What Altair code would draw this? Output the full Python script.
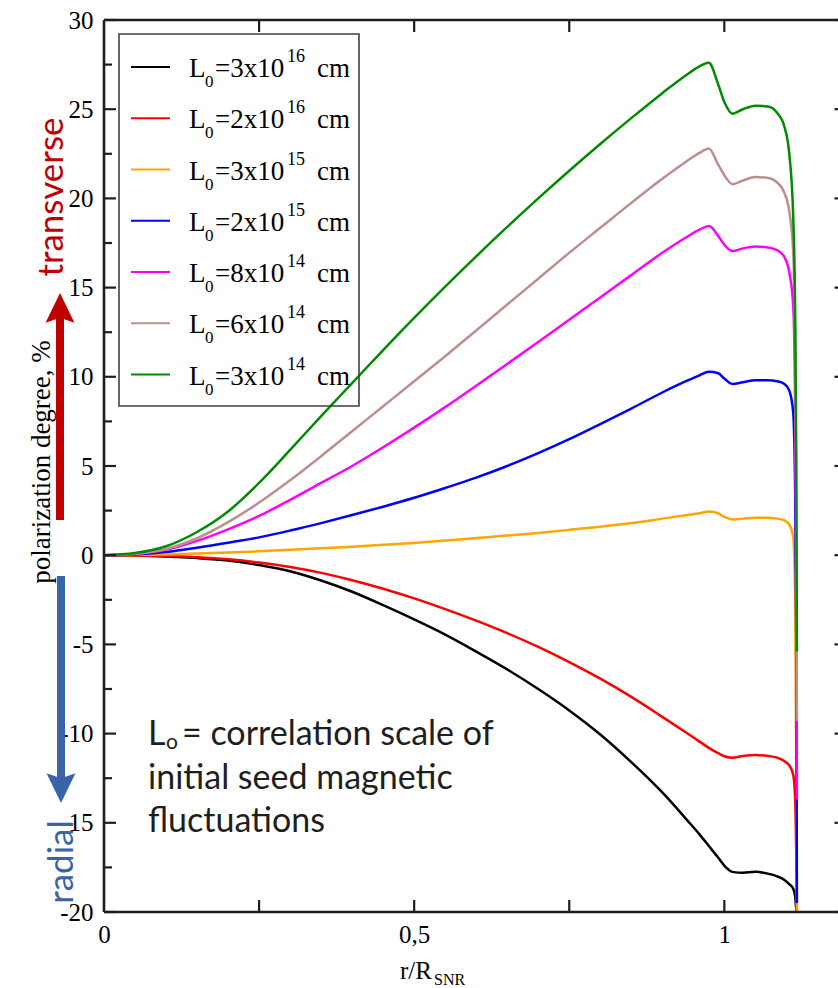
import altair as alt
import pandas as pd

# ---------------- data ----------------
r = [0, 0.05, 0.1, 0.15, 0.2, 0.25, 0.3, 0.35, 0.4, 0.45, 0.5, 0.55, 0.6, 0.65, 0.7,
     0.75, 0.8, 0.85, 0.9, 0.94, 0.96, 0.975, 0.99, 1.0, 1.013, 1.03, 1.05, 1.07,
     1.085, 1.097, 1.105, 1.111, 1.114, 1.116, 1.117]

black = [0, -0.02, -0.07, -0.16, -0.3, -0.55, -0.9, -1.42, -2.05, -2.8, -3.6, -4.45,
         -5.4, -6.4, -7.5, -8.7, -10.05, -11.6, -13.3, -14.85, -15.65, -16.3, -16.95,
         -17.4, -17.75, -17.8, -17.75, -17.85, -18.0, -18.2, -18.45, -18.7, -19.1,
         -19.8, -20.0]
red = [0, -0.01, -0.04, -0.11, -0.23, -0.41, -0.66, -0.99, -1.4, -1.88, -2.42, -3.02,
       -3.67, -4.37, -5.14, -5.99, -6.92, -7.94, -9.06, -9.98, -10.45, -10.8, -11.1,
       -11.27, -11.35, -11.25, -11.2, -11.25, -11.35, -11.55, -11.8, -12.3, -13.5,
       -17.0, -20.0]
orange = [0, 0.01, 0.04, 0.09, 0.15, 0.22, 0.3, 0.39, 0.48, 0.58, 0.69, 0.82, 0.96,
          1.1, 1.25, 1.42, 1.6, 1.8, 2.05, 2.25, 2.35, 2.45, 2.35, 2.15, 2.0, 2.05,
          2.1, 2.1, 2.05, 1.95, 1.7, 1.0, -2.0, -12.0, -20.0]
blue = [0, 0.04, 0.18, 0.42, 0.7, 1.0, 1.38, 1.8, 2.25, 2.72, 3.22, 3.77, 4.35, 5.0,
        5.72, 6.5, 7.35, 8.22, 9.12, 9.78, 10.08, 10.28, 10.2, 9.9, 9.6, 9.7, 9.8, 9.8,
        9.75, 9.6, 9.2, 8.0, 4.0, -5.0, -19.5]
magenta = [0, 0.07, 0.3, 0.8, 1.45, 2.2, 3.1, 4.05, 5.0, 6.05, 7.15, 8.3, 9.5, 10.72,
           11.95, 13.2, 14.45, 15.7, 16.95, 17.85, 18.25, 18.45, 17.9, 17.4, 17.05,
           17.2, 17.3, 17.25, 17.1, 16.7, 15.8, 14.0, 9.0, 0.0, -13.7]
brown = [0, 0.08, 0.35, 0.95, 1.85, 2.95, 4.2, 5.55, 6.95, 8.35, 9.75, 11.15, 12.6,
         14.05, 15.5, 16.95, 18.35, 19.75, 21.1, 22.1, 22.55, 22.8, 21.9, 21.3, 20.8,
         21.0, 21.2, 21.15, 20.9, 20.3, 19.2, 17.0, 12.0, 2.0, -9.3]
green = [0, 0.12, 0.5, 1.3, 2.45, 4.05, 5.9, 7.8, 9.65, 11.5, 13.3, 15.05, 16.75, 18.4,
         20.0, 21.55, 23.05, 24.5, 25.9, 26.95, 27.4, 27.6, 26.4, 25.4, 24.75, 25.0,
         25.2, 25.15, 24.8, 24.0, 22.4, 19.0, 14.0, 5.0, -5.4]

series_values = [black, red, orange, blue, magenta, brown, green]
series_colors = ["#000000", "#ff0000", "#ffa500", "#0000ff", "#ff00ff", "#bc8f8f", "#008b00"]
mantissas = ["3", "2", "3", "2", "8", "6", "3"]
exponents = ["16", "16", "15", "15", "14", "14", "14"]

y_major = [-20, -15, -10, -5, 0, 5, 10, 15, 20, 25, 30]
y_minor = [-17.5, -12.5, -7.5, -2.5, 2.5, 7.5, 12.5, 17.5, 22.5, 27.5]
x_ticks = [0.25, 0.5, 0.75, 1.0]
x_labels = [0, 0.5, 1]

# ---------------- layout ----------------
PL, PT, W, H = 104, 20, 732, 892
XMAX = 1.18
SERIF = "Liberation Serif"
SANS = "Lato"
INK = "#1e1e1e"
RED_TXT = "#c00000"
BLUE_TXT = "#3a64a8"

def px(xa):
    return xa - PL

def py(ya):
    return ya - PT

xscale = alt.Scale(domain=[0, XMAX], nice=False, zero=False)
yscale = alt.Scale(domain=[-20, 30], nice=False, zero=False)

X = alt.X("r:Q", scale=xscale,
          axis=alt.Axis(values=x_labels, title=None, grid=False, ticks=False, tickSize=0,
                        domain=False, labelFont=SERIF, labelFontSize=25, labelColor="black",
                        labelPadding=10, labelFlush=False, labelOverlap=False,
                        labelExpr="datum.value == 0.5 ? '0,5' : '' + datum.value"))
Y = alt.Y("v:Q", scale=yscale,
          axis=alt.Axis(values=y_major, title=None, grid=False, ticks=False, tickSize=0,
                        domain=False, labelFont=SERIF, labelFontSize=25, labelColor="black",
                        labelPadding=11, labelFlush=False, labelOverlap=False,
                        labelExpr="'' + datum.value"))

layers = []

# curves (black first, green on top)
for vals, col in zip(series_values, series_colors):
    d = pd.DataFrame({"r": r, "v": vals})
    layers.append(alt.Chart(d).mark_line(color=col, strokeWidth=2.5, interpolate="monotone")
                  .encode(x=X, y=Y))

def one(text="."):
    return pd.DataFrame({"t": [text]})

# frame lines
FR = dict(color=INK, strokeWidth=2.6)
layers.append(alt.Chart(one()).mark_rule(**FR).encode(
    x=alt.value(0), y=alt.value(0), y2=alt.value(H)))
layers.append(alt.Chart(one()).mark_rule(**FR).encode(
    x=alt.value(0), x2=alt.value(W + 2), y=alt.value(0)))
layers.append(alt.Chart(one()).mark_rule(**FR).encode(
    x=alt.value(0), x2=alt.value(W + 2), y=alt.value(H)))

# ticks (inward)
TK = dict(color=INK, strokeWidth=2.2)
dym = pd.DataFrame({"v": y_major})
dyn = pd.DataFrame({"v": y_minor})
dx = pd.DataFrame({"r": x_ticks})
layers.append(alt.Chart(dym).mark_rule(**TK).encode(x=alt.value(0), x2=alt.value(12), y=Y))
layers.append(alt.Chart(dyn).mark_rule(**TK).encode(x=alt.value(0), x2=alt.value(8), y=Y))
layers.append(alt.Chart(dym).mark_rule(**TK).encode(x=alt.value(W - 1.5), x2=alt.value(W + 2), y=Y))
layers.append(alt.Chart(dx).mark_rule(**TK).encode(x=X, y=alt.value(H - 12), y2=alt.value(H)))
layers.append(alt.Chart(dx).mark_rule(**TK).encode(x=X, y=alt.value(0), y2=alt.value(12)))

# legend
layers.append(alt.Chart(one()).mark_rect(fill=None, stroke="#404040", strokeWidth=1.6).encode(
    x=alt.value(px(119)), x2=alt.value(px(359)), y=alt.value(py(34)), y2=alt.value(py(406))))
row_px = [67 + 51.25 * i for i in range(7)]
leg = pd.DataFrame({
    "v": [30 - (ya - PT) * 50 / H for ya in row_px],
    "col": series_colors,
    "mant": ["=" + m + "x10" for m in mantissas],
    "exp": exponents,
})
layers.append(alt.Chart(leg).mark_rule(strokeWidth=2.2).encode(
    x=alt.value(px(131)), x2=alt.value(px(170)), y=Y,
    color=alt.Color("col:N", scale=None)))
TXT = dict(align="left", baseline="alphabetic", font=SERIF, color="black")
layers.append(alt.Chart(leg).mark_text(fontSize=27, dy=10, **TXT).encode(
    x=alt.value(px(189)), y=Y, text=alt.value("L")))
layers.append(alt.Chart(leg).mark_text(fontSize=17, dy=20, **TXT).encode(
    x=alt.value(px(205)), y=Y, text=alt.value("0")))
layers.append(alt.Chart(leg).mark_text(fontSize=27, dy=10, **TXT).encode(
    x=alt.value(px(215)), y=Y, text="mant:N"))
layers.append(alt.Chart(leg).mark_text(fontSize=18, dy=-5, **TXT).encode(
    x=alt.value(px(287)), y=Y, text="exp:N"))
layers.append(alt.Chart(leg).mark_text(fontSize=27, dy=10, **TXT).encode(
    x=alt.value(px(317)), y=Y, text=alt.value("cm")))

# annotation
ANN = dict(align="left", baseline="alphabetic", font=SANS, color=INK)
layers.append(alt.Chart(one("L")).mark_text(fontSize=34, **ANN).encode(
    x=alt.value(px(148)), y=alt.value(py(745)), text="t:N"))
layers.append(alt.Chart(one("o")).mark_text(fontSize=21, **ANN).encode(
    x=alt.value(px(166)), y=alt.value(py(749)), text="t:N"))
layers.append(alt.Chart(one("= correlation scale of")).mark_text(fontSize=34, **ANN).encode(
    x=alt.value(px(182)), y=alt.value(py(745)), text="t:N"))
layers.append(alt.Chart(one("initial seed magnetic")).mark_text(fontSize=34, **ANN).encode(
    x=alt.value(px(148)), y=alt.value(py(789)), text="t:N"))
layers.append(alt.Chart(one("fluctuations")).mark_text(fontSize=34, **ANN).encode(
    x=alt.value(px(148)), y=alt.value(py(832)), text="t:N"))

# axis titles
layers.append(alt.Chart(one("r/R")).mark_text(fontSize=25, **TXT).encode(
    x=alt.value(px(400)), y=alt.value(py(979)), text="t:N"))
layers.append(alt.Chart(one("SNR")).mark_text(fontSize=16, **TXT).encode(
    x=alt.value(px(434)), y=alt.value(py(985)), text="t:N"))
layers.append(alt.Chart(one("polarization degree, %")).mark_text(
    fontSize=27, angle=270, align="center", baseline="alphabetic", font=SERIF, color="black").encode(
    x=alt.value(px(50)), y=alt.value(py(462)), text="t:N"))

# side labels
layers.append(alt.Chart(one("transverse")).mark_text(
    fontSize=35, angle=270, align="center", baseline="alphabetic", font=SANS, color=RED_TXT).encode(
    x=alt.value(px(63)), y=alt.value(py(197)), text="t:N"))
layers.append(alt.Chart(one("radial")).mark_text(
    fontSize=35, angle=270, align="center", baseline="alphabetic", font=SANS, color=BLUE_TXT).encode(
    x=alt.value(px(73)), y=alt.value(py(862)), text="t:N"))

# arrows
layers.append(alt.Chart(one()).mark_rule(color=RED_TXT, strokeWidth=8, strokeCap="butt").encode(
    x=alt.value(px(60)), y=alt.value(py(520)), y2=alt.value(py(312))))
layers.append(alt.Chart(one()).mark_point(
    shape="M0,-1L0.85,0.75L0,0.45L-0.85,0.75Z", filled=True, size=1156, opacity=1,
    color=RED_TXT, strokeWidth=0).encode(x=alt.value(px(60)), y=alt.value(py(310))))
layers.append(alt.Chart(one()).mark_rule(color=BLUE_TXT, strokeWidth=8, strokeCap="butt").encode(
    x=alt.value(px(61)), y=alt.value(py(576)), y2=alt.value(py(788))))
layers.append(alt.Chart(one()).mark_point(
    shape="M0,1L0.85,-0.75L0,-0.45L-0.85,-0.75Z", filled=True, size=1156, opacity=1,
    color=BLUE_TXT, strokeWidth=0).encode(x=alt.value(px(61)), y=alt.value(py(786))))

chart = alt.layer(*layers).properties(
    width=W, height=H,
    autosize=alt.AutoSizeParams(type="none"),
    padding={"left": PL, "top": PT, "right": 838 - PL - W, "bottom": 988 - PT - H},
    background="white",
).configure_view(stroke=None)

chart.save("out.html", embed_options={"renderer": "svg", "actions": False})
